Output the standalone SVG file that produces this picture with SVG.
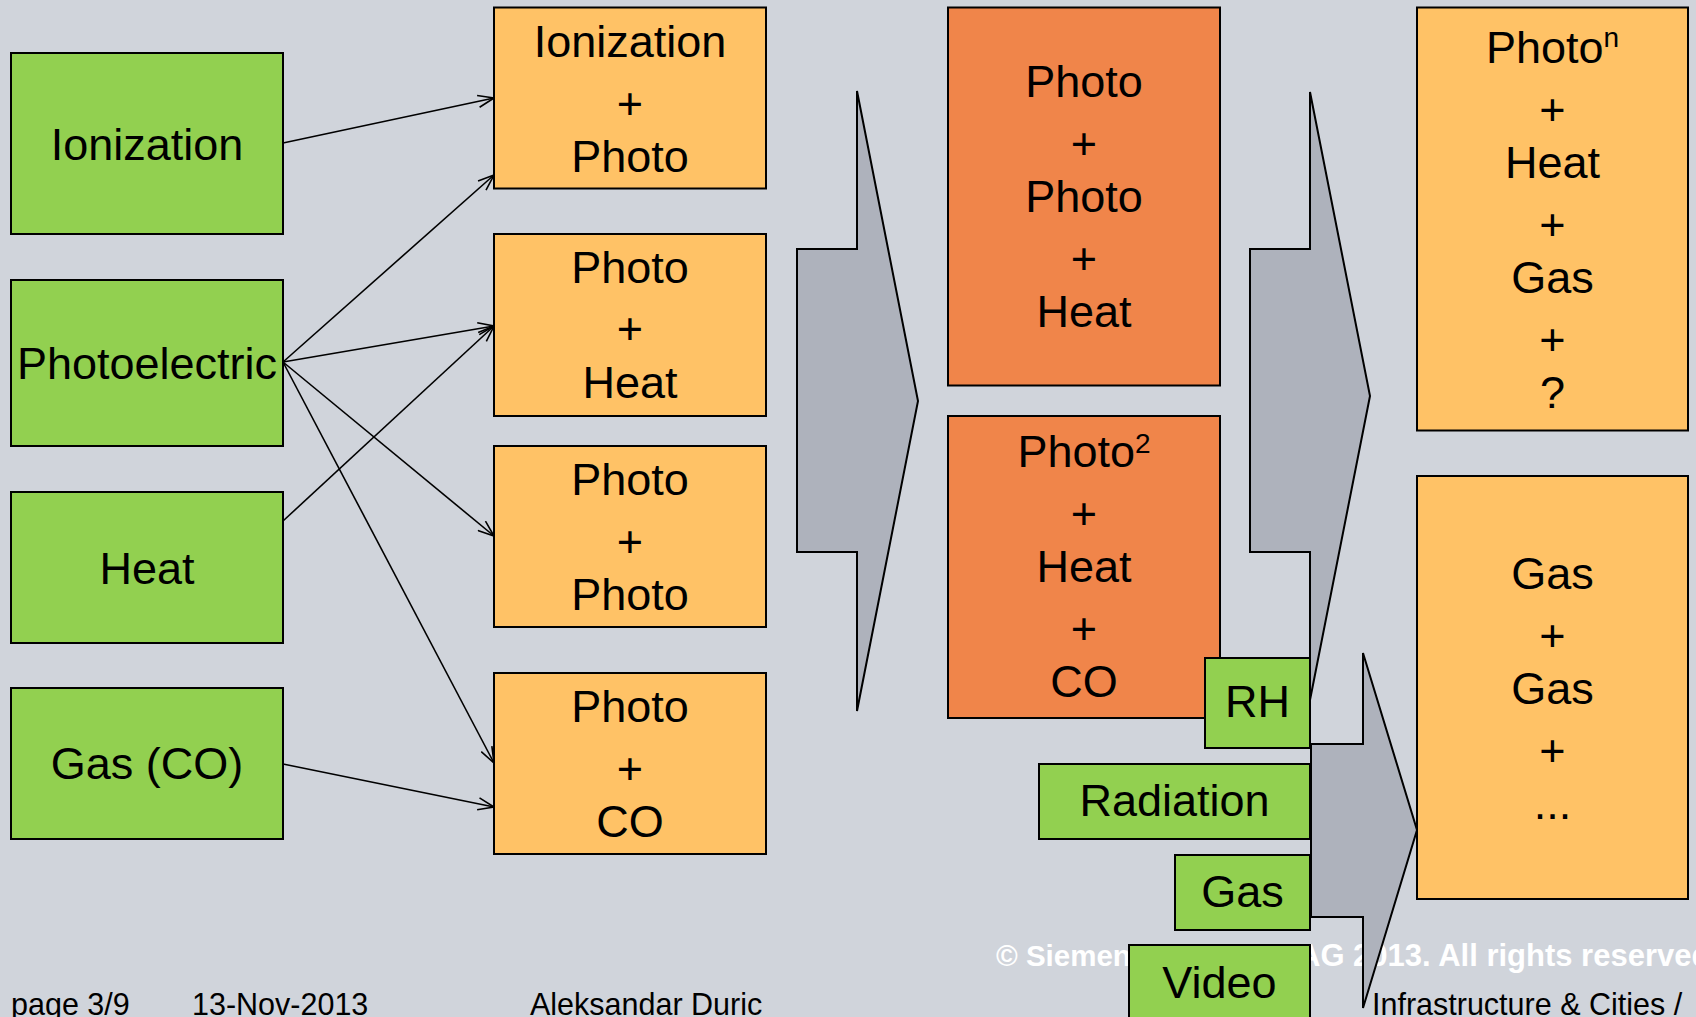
<svg xmlns="http://www.w3.org/2000/svg" width="1696" height="1017" viewBox="0 0 1696 1017">
<defs>
<marker id="ah" viewBox="0 0 18 14" refX="17" refY="7" markerWidth="18" markerHeight="14" markerUnits="userSpaceOnUse" orient="auto">
<path d="M1,1 L17,7 L1,13" fill="none" stroke="#000" stroke-width="1.6"/>
</marker>
<style>
.g{fill:#92D050;stroke:#000;stroke-width:2}
.o{fill:#FFC266;stroke:#000;stroke-width:2}
.d{fill:#F0854A;stroke:#000;stroke-width:2}
.ar{fill:#AEB2BC;stroke:#000;stroke-width:2;stroke-linejoin:miter}
.t{font-family:"Liberation Sans",Arial,sans-serif;font-size:45px;fill:#000;text-anchor:middle}
.f{font-family:"Liberation Sans",Arial,sans-serif;font-size:30.5px;fill:#000}
.c{font-family:"Liberation Sans",Arial,sans-serif;font-weight:bold;fill:#fff}
.cn{fill:none;stroke:#000;stroke-width:1.6;marker-end:url(#ah)}
</style>
</defs>
<rect x="0" y="0" width="1696" height="1017" fill="#D0D4DB"/>

<g id="copyright">
<text class="c" x="996" y="966" font-size="29.5">© Siemens</text>
<text class="c" x="1298" y="966" font-size="31">AG 2013. All rights reserved.</text>
</g>

<g id="big-arrows">
<polygon id="arrow1" class="ar" points="797,249 857,249 857,91 918,401 857,711 857,552 797,552"/>
<polygon id="arrow2" class="ar" points="1250,249 1310,249 1310,92 1370,396 1310,700 1310,552 1250,552"/>
<polygon id="arrow3" class="ar" points="1311,744 1363,744 1363,653 1417,830 1363,1008 1363,917 1311,917"/>
</g>

<g id="connectors">
<line class="cn" x1="283" y1="143" x2="494" y2="98"/>
<line class="cn" x1="283" y1="362" x2="494" y2="175"/>
<line class="cn" x1="283" y1="362" x2="494" y2="326"/>
<line class="cn" x1="283" y1="362" x2="494" y2="536"/>
<line class="cn" x1="283" y1="362" x2="494" y2="763"/>
<line class="cn" x1="283" y1="521" x2="494" y2="326"/>
<line class="cn" x1="283" y1="764" x2="494" y2="807"/>
</g>

<g id="n-ionization"><rect class="g" x="11" y="53" width="272" height="181"/><text class="t" x="147" y="160">Ionization</text></g>
<g id="n-photoelectric"><rect class="g" x="11" y="280" width="272" height="166"/><text class="t" x="147" y="379">Photoelectric</text></g>
<g id="n-heat"><rect class="g" x="11" y="492" width="272" height="151"/><text class="t" x="147" y="584">Heat</text></g>
<g id="n-gas-co"><rect class="g" x="11" y="688" width="272" height="151"/><text class="t" x="147" y="779">Gas (CO)</text></g>

<g id="n-ion-photo"><rect class="o" x="494" y="7.5" width="272" height="181"/>
<text class="t" x="630" y="57">Ionization</text><text class="t" x="630" y="118.5">+</text><text class="t" x="630" y="172">Photo</text></g>
<g id="n-photo-heat"><rect class="o" x="494" y="234" width="272" height="182"/>
<text class="t" x="630" y="283">Photo</text><text class="t" x="630" y="344">+</text><text class="t" x="630" y="398">Heat</text></g>
<g id="n-photo-photo"><rect class="o" x="494" y="446" width="272" height="181"/>
<text class="t" x="630" y="495">Photo</text><text class="t" x="630" y="556.5">+</text><text class="t" x="630" y="610">Photo</text></g>
<g id="n-photo-co"><rect class="o" x="494" y="673" width="272" height="181"/>
<text class="t" x="630" y="722">Photo</text><text class="t" x="630" y="783.5">+</text><text class="t" x="630" y="837">CO</text></g>

<g id="n-photo-photo-heat"><rect class="d" x="948" y="7.5" width="272" height="378"/>
<text class="t" x="1084" y="97">Photo</text><text class="t" x="1084" y="158.5">+</text><text class="t" x="1084" y="212">Photo</text><text class="t" x="1084" y="273.5">+</text><text class="t" x="1084" y="327">Heat</text></g>
<g id="n-photo2-heat-co"><rect class="d" x="948" y="416" width="272" height="302"/>
<text class="t" x="1084" y="467">Photo<tspan font-size="28" dy="-14">2</tspan></text><text class="t" x="1084" y="528.5">+</text><text class="t" x="1084" y="582">Heat</text><text class="t" x="1084" y="643.5">+</text><text class="t" x="1084" y="697">CO</text></g>

<g id="n-photon"><rect class="o" x="1417" y="7.5" width="271" height="423"/>
<text class="t" x="1552.5" y="63">Photo<tspan font-size="28" dy="-16">n</tspan></text><text class="t" x="1552.5" y="124.5">+</text><text class="t" x="1552.5" y="178">Heat</text><text class="t" x="1552.5" y="239.5">+</text><text class="t" x="1552.5" y="293">Gas</text><text class="t" x="1552.5" y="354.5">+</text><text class="t" x="1552.5" y="408">?</text></g>
<g id="n-gas-gas"><rect class="o" x="1417" y="476" width="271" height="423"/>
<text class="t" x="1552.5" y="589">Gas</text><text class="t" x="1552.5" y="650.5">+</text><text class="t" x="1552.5" y="704">Gas</text><text class="t" x="1552.5" y="765.5">+</text><text class="t" x="1552.5" y="819">...</text></g>

<g id="n-rh"><rect class="g" x="1205" y="658" width="105" height="90"/><text class="t" x="1257.5" y="717">RH</text></g>
<g id="n-radiation"><rect class="g" x="1039" y="764" width="271" height="75"/><text class="t" x="1174.5" y="816">Radiation</text></g>
<g id="n-gas"><rect class="g" x="1175" y="855" width="135" height="75"/><text class="t" x="1242.5" y="907">Gas</text></g>
<g id="n-video"><rect class="g" x="1129" y="945" width="181" height="90"/><text class="t" x="1219.5" y="998">Video</text></g>

<g id="footer">
<text class="f" x="11" y="1015">page 3/9</text>
<text class="f" x="192" y="1015">13-Nov-2013</text>
<text class="f" x="530" y="1015">Aleksandar Duric</text>
<text class="f" x="1372" y="1015" font-size="31">Infrastructure &amp; Cities /</text>
</g>
</svg>
